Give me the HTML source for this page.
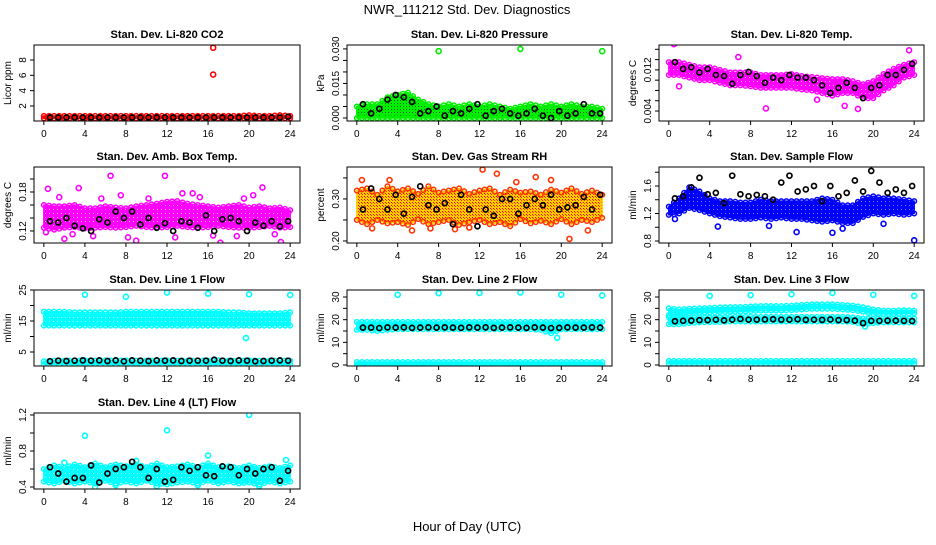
<!DOCTYPE html>
<html><head><meta charset="utf-8">
<style>
body{margin:0;background:#fff;}
svg text{font-family:"Liberation Sans",Arial,sans-serif;}
</style></head>
<body>
<svg id="chart" width="936" height="540" xmlns="http://www.w3.org/2000/svg">
<defs>
<pattern id="pat-co2" width="3" height="3" patternUnits="userSpaceOnUse"><rect width="3" height="3" fill="#ff0000"/><rect x="1" y="1" width="1" height="1" fill="#000"/></pattern>
<pattern id="pat-green" width="3" height="3" patternUnits="userSpaceOnUse"><rect width="3" height="3" fill="#00ee00"/><rect x="1" y="1" width="1" height="1" fill="#006600"/></pattern>
<pattern id="pat-mag" width="4" height="4" patternUnits="userSpaceOnUse"><rect width="4" height="4" fill="#ff00ff"/><rect x="1" y="1" width="1" height="1" fill="#ffb0ff"/></pattern>
<pattern id="pat-rh" width="3" height="3" patternUnits="userSpaceOnUse"><rect width="3" height="3" fill="#ffcc00"/><rect x="1" y="1" width="1" height="1" fill="#ff0000"/><rect x="2" y="2" width="1" height="1" fill="#ff3300"/></pattern>
<pattern id="pat-blue" width="4" height="4" patternUnits="userSpaceOnUse"><rect width="4" height="4" fill="#0000ff"/><rect x="1" y="1" width="1" height="1" fill="#8080ff"/></pattern>
<pattern id="pat-cyan" width="4" height="4" patternUnits="userSpaceOnUse"><rect width="4" height="4" fill="#00ffff"/><rect x="1" y="1" width="1" height="1" fill="#b0ffff"/></pattern>
</defs>
<rect width="936" height="540" fill="#fff"/>
<text x="467" y="14" text-anchor="middle" font-size="13">NWR_111212 Std. Dev. Diagnostics</text>
<text x="467" y="531" text-anchor="middle" font-size="13">Hour of Day (UTC)</text>
</svg>
<script>
// ---- data ----
const hours = [0,1,2,3,4,5,6,7,8,9,10,11,12,13,14,15,16,17,18,19,20,21,22,23,24];
const blackHours = [0.6,1.4,2.2,3.0,3.8,4.6,5.4,6.2,7.0,7.8,8.6,9.4,10.2,11.0,11.8,12.6,13.4,14.2,15.0,15.8,16.6,17.4,18.2,19.0,19.8,20.6,21.4,22.2,23.0,23.8];
const xTicks = [0,4,8,12,16,20,24];

const co2Low  = [0.4,0.4,0.4,0.4,0.4,0.4,0.4,0.4,0.4,0.4,0.4,0.4,0.4,0.4,0.4,0.4,0.4,0.4,0.4,0.4,0.4,0.4,0.4,0.4,0.4];
const co2High = [0.7,0.7,0.7,0.7,0.7,0.7,0.7,0.7,0.7,0.7,0.7,0.7,0.7,0.7,0.7,0.7,0.7,0.7,0.7,0.7,0.8,0.7,0.7,0.8,0.7];
const co2Black = [0.5,0.5,0.5,0.5,0.5,0.5,0.5,0.5,0.5,0.5,0.5,0.5,0.5,0.5,0.5,0.5,0.5,0.5,0.5,0.5,0.5,0.5,0.5,0.5,0.5,0.5,0.5,0.5,0.5,0.6];
const co2OutX = [16.5,16.5]; const co2OutY = [9.6,6.1];

const prLow  = [0.000,0.000,0.000,0.000,0.000,0.000,0.000,0.000,0.000,0.000,0.000,0.000,0.000,0.000,0.000,0.000,0.000,0.000,0.000,0.000,0.000,0.000,0.000,0.000,0.000];
const prHigh = [0.005,0.006,0.006,0.009,0.010,0.011,0.008,0.006,0.005,0.006,0.005,0.006,0.005,0.006,0.005,0.004,0.005,0.006,0.005,0.006,0.005,0.006,0.005,0.005,0.004];
const prBlack = [0.006,0.002,0.004,0.008,0.010,0.009,0.007,0.002,0.003,0.005,0.001,0.003,0.002,0.004,0.006,0.001,0.003,0.004,0.002,0.001,0.002,0.004,0.001,0.000,0.003,0.001,0.002,0.006,0.002,0.002];
const prOutX = [8,16,24]; const prOutY = [0.029,0.030,0.029];

const tmLow  = [0.0110,0.0110,0.0105,0.0100,0.0100,0.0095,0.0090,0.0090,0.0088,0.0085,0.0085,0.0085,0.0085,0.0082,0.0080,0.0075,0.0070,0.0075,0.0075,0.0065,0.0065,0.0080,0.0090,0.0105,0.0110];
const tmHigh = [0.0135,0.0135,0.0130,0.0125,0.0125,0.0120,0.0115,0.0115,0.0115,0.0110,0.0110,0.0110,0.0112,0.0108,0.0106,0.0104,0.0102,0.0102,0.0098,0.0092,0.0098,0.0112,0.0122,0.0130,0.0135];
const tmBlack = [0.0135,0.0122,0.0125,0.0115,0.0122,0.0110,0.0108,0.0093,0.0110,0.0116,0.0108,0.0095,0.0105,0.0100,0.0110,0.0105,0.0105,0.0100,0.0090,0.0075,0.0085,0.0095,0.0085,0.0065,0.0085,0.0090,0.0110,0.0110,0.0120,0.0132];
const tmOutX = [0.5,6.8,9.5,14.5,17.2,18.5,23.5,1.0]; const tmOutY = [0.0170,0.0145,0.0045,0.0062,0.0050,0.0044,0.0158,0.0088];

const abLow  = [0.125,0.122,0.125,0.126,0.124,0.125,0.126,0.125,0.126,0.128,0.126,0.125,0.126,0.128,0.126,0.125,0.126,0.128,0.126,0.125,0.125,0.126,0.128,0.125,0.126];
const abHigh = [0.160,0.158,0.158,0.160,0.155,0.155,0.158,0.156,0.155,0.158,0.160,0.162,0.165,0.166,0.162,0.160,0.158,0.156,0.158,0.160,0.156,0.158,0.155,0.156,0.152];
const abBlack = [0.135,0.133,0.140,0.128,0.124,0.120,0.138,0.133,0.150,0.140,0.150,0.130,0.140,0.125,0.132,0.120,0.135,0.133,0.125,0.144,0.120,0.138,0.140,0.135,0.120,0.133,0.128,0.135,0.127,0.135];
const abOutX = [0.4,2.0,3.4,6.5,9.0,11.8,14.5,17.2,21.3,23.1,0.2,1.5,4.8,7.5,10.2,12.8,15.2,18.8,20.4,22.5,2.8,5.6,8.2,13.5,16.5,19.5,23.8]; const abOutY = [0.185,0.108,0.186,0.205,0.105,0.205,0.178,0.102,0.187,0.103,0.118,0.172,0.112,0.175,0.170,0.110,0.172,0.112,0.175,0.115,0.115,0.170,0.110,0.178,0.113,0.170,0.148];

const rhLow  = [0.250,0.240,0.250,0.242,0.245,0.238,0.252,0.240,0.245,0.250,0.238,0.245,0.250,0.240,0.245,0.235,0.252,0.242,0.248,0.240,0.252,0.240,0.250,0.245,0.255];
const rhHigh = [0.320,0.325,0.310,0.330,0.318,0.325,0.312,0.330,0.315,0.320,0.325,0.312,0.320,0.325,0.310,0.322,0.315,0.318,0.310,0.322,0.315,0.325,0.312,0.320,0.310];
const rhBlack = [0.275,0.325,0.300,0.275,0.310,0.265,0.305,0.330,0.285,0.275,0.290,0.240,0.310,0.275,0.235,0.275,0.260,0.300,0.300,0.265,0.285,0.300,0.285,0.310,0.275,0.280,0.285,0.305,0.275,0.310];
const rhOutX = [20.8,12.3,0.5,3.2,5.4,9.6,13.7,17.5,22.6,7.2,15.6,1.5,11.0,19.0]; const rhOutY = [0.205,0.37,0.345,0.345,0.225,0.228,0.36,0.352,0.225,0.23,0.34,0.23,0.232,0.345];

const sfLow  = [1.18,1.20,1.28,1.25,1.20,1.16,1.14,1.12,1.12,1.14,1.12,1.14,1.12,1.12,1.10,1.08,1.10,1.06,1.06,1.15,1.20,1.18,1.20,1.18,1.20];
const sfHigh = [1.30,1.42,1.58,1.52,1.42,1.38,1.38,1.36,1.36,1.40,1.38,1.38,1.38,1.38,1.38,1.42,1.40,1.32,1.32,1.42,1.45,1.42,1.42,1.40,1.38];
const sfBlack = [1.42,1.45,1.58,1.72,1.48,1.50,1.35,1.75,1.48,1.45,1.47,1.45,1.40,1.65,1.75,1.52,1.55,1.60,1.38,1.60,1.45,1.50,1.68,1.52,1.82,1.65,1.50,1.55,1.50,1.60];
const sfOutX = [0.6,12.5,16,24,4.8,9.8,17.0,21.0]; const sfOutY = [1.12,0.93,0.92,0.81,1.01,1.02,0.98,1.05];

const l1Low  = [13.5,13.5,13.5,13.5,13.5,13.5,13.5,13.5,13.5,13.5,13.5,13.5,13.5,13.5,13.5,13.5,13.5,13.5,13.5,13.5,13.5,13.5,13.5,13.5,13.5];
const l1High = [18.0,18.0,18.0,17.8,17.8,17.8,17.8,17.8,18.0,18.0,18.0,18.0,18.0,18.0,18.0,18.0,18.0,18.0,17.8,17.8,17.5,17.5,17.5,17.5,17.8];
const l1BotLow  = [1.0,1.0,1.0,1.0,1.0,1.0,1.0,1.0,1.0,1.0,1.0,1.0,1.0,1.0,1.0,1.0,1.0,1.0,1.0,1.0,1.0,1.0,1.0,1.0,1.0];
const l1BotHigh = [2.0,2.2,2.2,2.2,2.3,2.2,2.3,2.2,2.3,2.2,2.2,2.2,2.3,2.2,2.2,2.2,2.2,2.3,2.2,2.2,2.3,2.2,2.2,2.2,2.2];
const l1Black = [2.0,2.2,2.1,2.2,2.3,2.2,2.3,2.1,2.3,2.0,2.3,2.2,2.1,2.3,2.2,2.3,2.1,2.2,2.2,2.2,2.5,2.2,2.1,2.3,2.2,2.0,2.1,2.2,2.3,2.2];
const l1OutX = [4,8,12,16,20,24,19.7]; const l1OutY = [23.5,22.8,24.2,23.8,23.6,23.4,9.5];

const l2Low  = [15.5,15.5,15.0,15.5,15.8,15.8,15.8,15.8,15.8,15.8,15.8,15.8,15.8,15.8,15.8,15.8,15.8,15.8,15.5,14.0,15.8,15.8,15.8,15.8,15.8];
const l2High = [19.0,19.0,19.0,19.0,19.0,19.0,19.0,19.0,19.0,19.0,19.0,19.0,19.0,19.0,19.0,19.0,19.0,19.0,19.0,19.0,19.0,19.0,19.0,19.0,19.0];
const l2BotLow  = [0,0,0,0,0,0,0,0,0,0,0,0,0,0,0,0,0,0,0,0,0,0,0,0,0];
const l2BotHigh = [1.3,1.3,1.3,1.3,1.3,1.3,1.3,1.3,1.3,1.3,1.3,1.3,1.3,1.3,1.3,1.3,1.3,1.3,1.3,1.3,1.3,1.3,1.3,1.3,1.3];
const l2Black = [16.5,16.5,16.3,16.6,16.5,16.6,16.4,16.5,16.6,16.5,16.6,16.5,16.4,16.6,16.5,16.6,16.4,16.5,16.6,16.5,16.4,16.6,16.5,16.3,16.4,16.6,16.5,16.5,16.6,16.5];
const l2OutX = [4,8,12,16,20,24,19.6]; const l2OutY = [31,31.7,31.8,32,31,30.7,12];

const l3Low  = [22.0,22.5,22.8,23.0,23.2,23.4,23.5,23.5,23.8,24.0,24.0,24.0,24.2,24.5,24.8,24.8,24.8,24.5,24.2,23.5,22.5,22.5,22.5,22.8,22.8];
const l3High = [25.0,24.5,24.8,25.0,25.2,25.4,25.5,25.6,25.8,26.0,26.0,26.0,26.2,26.5,26.8,26.8,26.8,26.5,26.2,25.5,24.5,24.0,24.0,24.2,24.0];
const l3MidLow  = [18.0,18.0,18.5,18.8,19.0,19.0,19.2,19.2,19.2,19.2,19.2,19.2,19.2,19.2,19.2,19.2,19.2,19.2,19.0,18.0,18.5,18.8,18.8,18.8,18.8];
const l3MidHigh = [21.0,21.0,21.0,21.0,21.0,21.0,21.2,21.2,21.2,21.2,21.2,21.2,21.2,21.2,21.2,21.2,21.2,21.2,21.0,20.5,20.5,20.5,20.5,20.5,20.5];
const l3BotLow  = [0.5,0.5,0.5,0.5,0.5,0.5,0.5,0.5,0.5,0.5,0.5,0.5,0.5,0.5,0.5,0.5,0.5,0.5,0.5,0.5,0.5,0.5,0.5,0.5,0.5];
const l3BotHigh = [1.8,1.8,1.8,1.8,1.8,1.8,1.8,1.8,1.8,1.8,1.8,1.8,1.8,1.8,1.8,1.8,1.8,1.8,1.8,1.8,1.8,1.8,1.8,1.8,1.8];
const l3Black = [19.3,19.5,19.6,19.8,19.8,20.0,19.7,20.0,20.3,20.0,20.0,20.1,20.2,20.0,20.0,20.2,19.9,20.0,19.9,20.1,19.8,19.8,19.6,18.5,19.5,19.5,19.6,19.6,19.5,19.4];
const l3OutX = [4,8,12,16,20,24,19.2]; const l3OutY = [30.5,30.8,31.2,31.8,31,30.5,17];

const l4Low  = [0.46,0.44,0.47,0.44,0.46,0.44,0.47,0.44,0.46,0.44,0.47,0.44,0.43,0.45,0.46,0.44,0.47,0.44,0.46,0.44,0.45,0.43,0.46,0.44,0.46];
const l4High = [0.60,0.64,0.61,0.65,0.62,0.66,0.62,0.65,0.63,0.65,0.62,0.66,0.62,0.63,0.65,0.62,0.66,0.62,0.63,0.61,0.64,0.61,0.63,0.61,0.64];
const l4Black = [0.62,0.55,0.46,0.50,0.50,0.64,0.45,0.55,0.60,0.62,0.68,0.62,0.50,0.60,0.46,0.48,0.62,0.58,0.62,0.53,0.52,0.63,0.62,0.53,0.60,0.55,0.60,0.62,0.47,0.58];
const l4OutX = [4,12,20,16,5,7,11,15,21,23.6,2.0,9.0]; const l4OutY = [0.97,1.03,1.2,0.75,0.40,0.42,0.41,0.42,0.41,0.70,0.67,0.69];

// ---- layout ----
const cols = [[34,300],[347,612],[659,924]];
const rows = [[45,121],[167,243],[290,366],[413,489]];
const NS = 'http://www.w3.org/2000/svg';
const svg = document.getElementById('chart');

function mk(tag, attrs, parent){ const e=document.createElementNS(NS,tag); for(const k in attrs) e.setAttribute(k,attrs[k]); (parent||svg).appendChild(e); return e; }

const panels = [
 {name:'co2',title:'Stan. Dev. Li-820 CO2',ylab:'Licor ppm',c:0,r:0,ylim:[0.04,9.96],ticks:[2,4,6,8],labels:['2','4','6','8'],col:'#ff0000',fill:'url(#pat-co2)',bands:[[co2Low,co2High]],black:co2Black,ox:co2OutX,oy:co2OutY},
 {name:'pressure',title:'Stan. Dev. Li-820 Pressure',ylab:'kPa',c:1,r:0,ylim:[-0.0013,0.0317],ticks:[0,0.005,0.010,0.015,0.020,0.025,0.030],labels:['0.000','','','0.015','','','0.030'],col:'#00ee00',fill:'url(#pat-green)',bands:[[prLow,prHigh]],black:prBlack,ox:prOutX,oy:prOutY},
 {name:'licor-temp',title:'Stan. Dev. Li-820 Temp.',ylab:'degrees C',c:2,r:0,ylim:[0.00206,0.01684],ticks:[0.004,0.006,0.008,0.010,0.012,0.014,0.016],labels:['0.004','','','','0.012','',''],col:'#ff00ff',fill:'url(#pat-mag)',bands:[[tmLow,tmHigh]],black:tmBlack,ox:tmOutX,oy:tmOutY},
 {name:'amb-box-temp',title:'Stan. Dev. Amb. Box Temp.',ylab:'degrees C',c:0,r:1,ylim:[0.1015,0.2185],ticks:[0.12,0.14,0.16,0.18,0.20],labels:['0.12','','','0.18',''],col:'#ff00ff',fill:'url(#pat-mag)',bands:[[abLow,abHigh]],black:abBlack,ox:abOutX,oy:abOutY},
 {name:'gas-rh',title:'Stan. Dev. Gas Stream RH',ylab:'percent',c:1,r:1,ylim:[0.1952,0.376],ticks:[0.20,0.25,0.30,0.35],labels:['0.20','','0.30',''],col:'#ffcc00',fill:'url(#pat-rh)',stroke:'#ff3300',bands:[[rhLow,rhHigh]],black:rhBlack,ox:rhOutX,oy:rhOutY},
 {name:'sample-flow',title:'Stan. Dev. Sample Flow',ylab:'ml/min',c:2,r:1,ylim:[0.771,1.876],ticks:[0.8,1.0,1.2,1.4,1.6,1.8],labels:['0.8','','1.2','','1.6',''],col:'#0000ff',fill:'url(#pat-blue)',bands:[[sfLow,sfHigh]],black:sfBlack,ox:sfOutX,oy:sfOutY},
 {name:'line1-flow',title:'Stan. Dev. Line 1 Flow',ylab:'ml/min',c:0,r:2,ylim:[0.48,25],ticks:[5,10,15,20,25],labels:['5','','15','','25'],col:'#00ffff',fill:'url(#pat-cyan)',bands:[[l1Low,l1High],[l1BotLow,l1BotHigh]],black:l1Black,ox:l1OutX,oy:l1OutY},
 {name:'line2-flow',title:'Stan. Dev. Line 2 Flow',ylab:'ml/min',c:1,r:2,ylim:[-0.44,33.1],ticks:[0,5,10,15,20,25,30],labels:['0','','10','','20','','30'],col:'#00ffff',fill:'url(#pat-cyan)',bands:[[l2Low,l2High],[l2BotLow,l2BotHigh]],black:l2Black,ox:l2OutX,oy:l2OutY},
 {name:'line3-flow',title:'Stan. Dev. Line 3 Flow',ylab:'ml/min',c:2,r:2,ylim:[-0.44,33.1],ticks:[0,5,10,15,20,25,30],labels:['0','','10','','20','','30'],col:'#00ffff',fill:'url(#pat-cyan)',bands:[[l3Low,l3High],[l3MidLow,l3MidHigh],[l3BotLow,l3BotHigh]],black:l3Black,ox:l3OutX,oy:l3OutY},
 {name:'line4-flow',title:'Stan. Dev. Line 4 (LT) Flow',ylab:'ml/min',c:0,r:3,ylim:[0.378,1.222],ticks:[0.4,0.6,0.8,1.0,1.2],labels:['0.4','','0.8','','1.2'],col:'#00ffff',fill:'url(#pat-cyan)',bands:[[l4Low,l4High]],black:l4Black,ox:l4OutX,oy:l4OutY}
];

panels.forEach(p=>{
  const [x0,x1]=cols[p.c], [y0,y1]=rows[p.r];
  const xs = h => x0 + (h+0.96)/25.92*(x1-x0);
  const ys = v => y1 - (v-p.ylim[0])/(p.ylim[1]-p.ylim[0])*(y1-y0);
  const g = mk('g',{});
  
  
  const t = mk('text',{x:(x0+x1)/2,y:y0-7,'text-anchor':'middle','font-size':'11','font-weight':'bold'},g);
  t.textContent = p.title;
  
  
  const yl = mk('text',{transform:`translate(${x0-23},${(y0+y1)/2}) rotate(-90)`,'text-anchor':'middle','font-size':'10'},g);
  yl.textContent = p.ylab;
  
  
  const clip = 'clip-'+p.name;
  const cp = mk('clipPath',{id:clip},g); mk('rect',{x:x0,y:y0,width:x1-x0,height:y1-y0},cp);
  const data = mk('g',{'clip-path':`url(#${clip})`},g);
  const edge = p.stroke||p.col;
  p.bands.forEach(([lo,hi])=>{
    let d='';
    hours.forEach((h,i)=>{ d += (i?'L':'M')+xs(h)+','+ys(hi[i]); });
    for(let i=hours.length-1;i>=0;i--) d += 'L'+xs(hours[i])+','+ys(lo[i]);
    d+='Z';
    const band = mk('path',{d:d,fill:p.fill,stroke:p.col,'stroke-width':'1.5','stroke-linejoin':'round'},data);
    
    
    // edge points at hourly and half-hour positions
    hours.forEach((h,i)=>{
      const pts = [[h,hi[i]],[h,lo[i]]];
      if(i<hours.length-1){ pts.push([h+0.5,(hi[i]+hi[i+1])/2],[h+0.5,(lo[i]+lo[i+1])/2]); }
      pts.forEach(([hx,v])=>{
        const c = mk('circle',{cx:xs(hx),cy:ys(v),r:2.3,fill:'none',stroke:edge,'stroke-width':1.5},data);
        
        
      });
    });
  });
  p.ox.forEach((h,i)=>{
    const c = mk('circle',{cx:xs(h),cy:ys(p.oy[i]),r:2.5,fill:'none',stroke:edge,'stroke-width':1.6},data);
    
    
  });
  blackHours.forEach((h,i)=>{
    const c = mk('circle',{cx:xs(h),cy:ys(p.black[i]),r:2.5,fill:'none',stroke:'#000','stroke-width':1.7},data);
    
    
  });
  mk('rect',{x:x0,y:y0,width:x1-x0,height:y1-y0,fill:'none',stroke:'#000','stroke-width':1},g);
  xTicks.forEach(h=>{
    mk('line',{x1:xs(h),x2:xs(h),y1:y1,y2:y1+4,stroke:'#000'},g);
    const tl = mk('text',{x:xs(h),y:y1+16,'text-anchor':'middle','font-size':'10'},g);
    tl.textContent = h;
    
    
  });
  p.ticks.forEach((v,i)=>{
    mk('line',{x1:x0-4,x2:x0,y1:ys(v),y2:ys(v),stroke:'#000'},g);
    if(p.labels[i]){
      const tl = mk('text',{transform:`translate(${x0-8},${ys(v)}) rotate(-90)`,'text-anchor':'middle','font-size':'10'},g);
      tl.textContent = p.labels[i];
      
      
    }
  });
});
</script>
</body></html>
